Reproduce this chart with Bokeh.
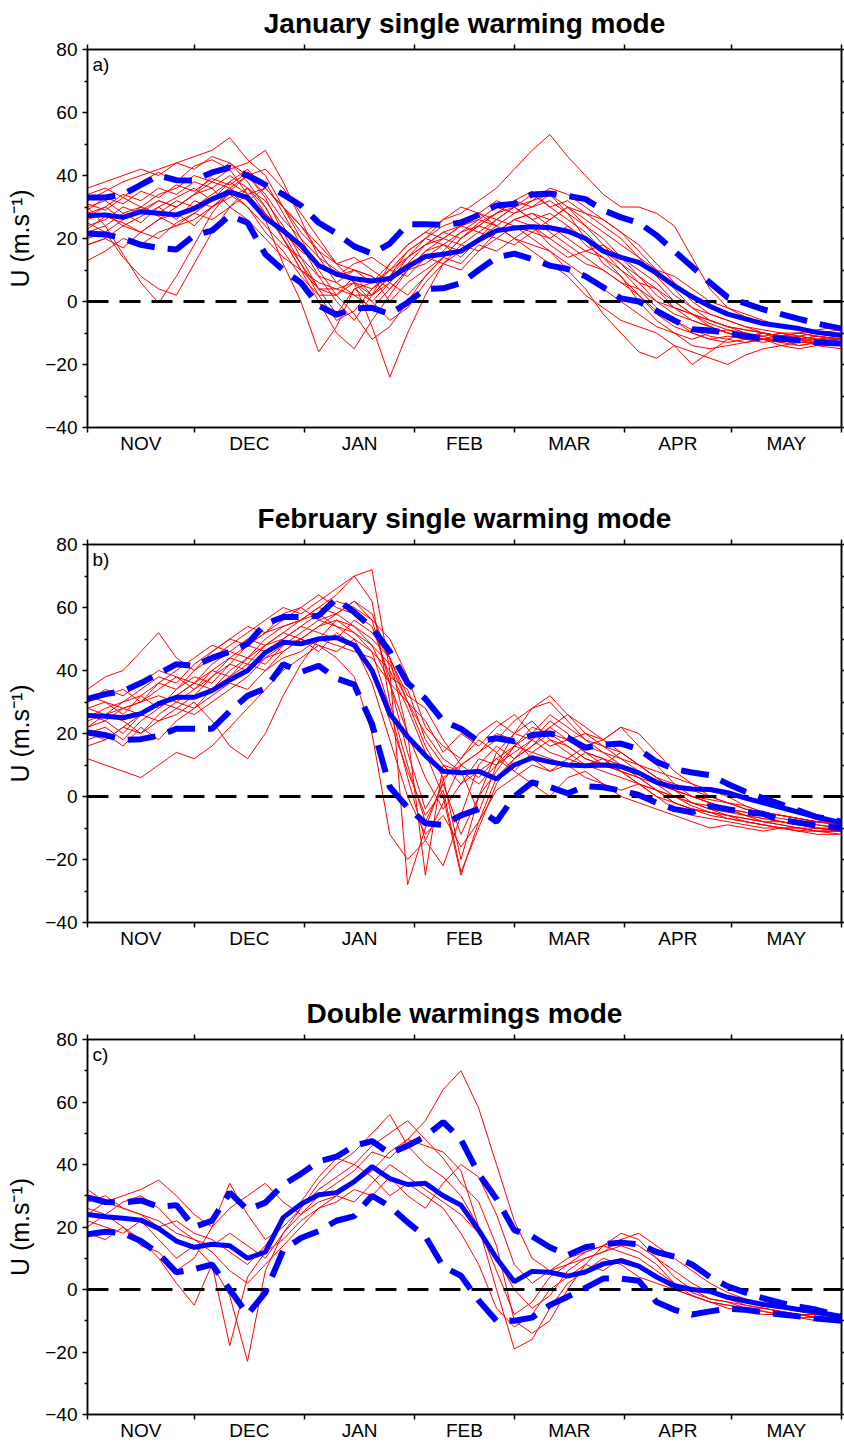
from bokeh.plotting import figure
from bokeh.layouts import column
from bokeh.models import Range1d, FixedTicker, LinearAxis, Label
from bokeh.embed import file_html
from bokeh.resources import INLINE

# ---------------- data ----------------
# day index counted from 1 November
days = [0, 5, 10, 15, 20, 25, 30, 35, 40, 45, 50, 55, 60, 65, 70, 75, 80, 85, 90, 95,
        100, 105, 110, 115, 120, 125, 130, 135, 140, 145, 150, 155, 160, 165, 170, 175,
        180, 185, 190, 195, 200, 205, 212]
month_names = ["NOV", "DEC", "JAN", "FEB", "MAR", "APR", "MAY"]
month_starts = [0, 30, 61, 92, 120, 151, 181, 212]
y_major = [-40, -20, 0, 20, 40, 60, 80]
y_minor = [-30, -10, 10, 30, 50, 70]
y_labels = ["\u221240", "\u221220", "0", "20", "40", "60", "80"]

titles = ["January single warming mode", "February single warming mode", "Double warmings mode"]
tags = ["a)", "b)", "c)"]
y_label = "U (m.s\u207b\u00b9)"

# ---- panel a : January single warming mode ----
a_mean = [27.3, 27.5, 26.7, 28.5, 28.0, 27.5, 29.5, 32.5, 34.8, 33.0, 26.5, 22.5, 17.8, 11.4, 8.7,
          7.2, 6.5, 7.3, 11.0, 14.3, 15.0, 16.0, 19.5, 22.5, 23.3, 23.7, 23.4, 22.3, 20.0, 16.0,
          14.0, 12.4, 9.0, 5.0, 1.5, -1.5, -4.0, -5.5, -7.0, -7.8, -8.6, -9.8, -10.8]
a_upper = [33, 33, 34, 37, 40, 38.5, 38.4, 41, 42.5, 40, 37, 34, 30.5, 25, 21.6, 17.5, 15.2, 18.4,
           24.5, 24.5, 24.3, 25, 27.5, 30.5, 31, 34, 34.3, 33.5, 32.5, 29, 26.7, 25, 21, 16, 11, 6,
           1.3, -0.6, -2.5, -4, -5.5, -7, -8.6]
a_lower = [21.6, 21.3, 20, 18, 17, 16.5, 21, 22.5, 27.3, 25, 15, 10, 6, -1.3, -4.2, -2.2, -2, -4,
           -0.3, 4, 4.2, 5.8, 10, 14, 15.2, 13.5, 11.4, 10.3, 8, 4.5, 1, 0, -3, -6, -8.8, -9.2, -10,
           -11, -11.7, -11.8, -12.3, -13, -13.3]
a_m01 = [30, 24, 15, 6, -0.5, 8, 18, 28, 35, 40, 33, 22, 12, 2, -6, -3, 4, 10, 14, 18, 22, 20, 25, 28, 30, 26, 22, 18, 14, 10, 6, 2, -3, -6, -9, -11, -12, -13, -12, -13, -14, -13, -14]
a_m02 = [25, 22, 14, 8, 4, 2, 12, 22, 30, 36, 30, 20, 10, 4, 4, 2, 2, 8, 16, 20, 24, 26, 28, 24, 20, 18, 16, 12, 8, 4, 0, -4, -8, -10, -12, -10, -9, -11, -10, -12, -11, -12, -11]
a_m03 = [32, 35, 38, 40, 42, 44, 46, 48, 52, 45, 40, 30, 20, 10, 2, -4, -12, -8, 0, 8, 14, 20, 24, 28, 32, 35, 30, 26, 22, 16, 10, 4, -2, -6, -10, -12, -13, -12, -13, -12, -14, -13, -13]
a_m04 = [34, 36, 33, 38, 41, 38, 43, 45, 42, 44, 48, 38, 26, 14, 6, 2, -2, 4, 10, 12, 16, 22, 26, 30, 28, 32, 34, 30, 24, 20, 14, 8, 2, -2, -4, -6, -8, -9, -10, -11, -10, -11, -12]
a_m05 = [28, 30, 26, 29, 32, 30, 34, 36, 30, 26, 20, 14, 10, 6, 4, 6, -8, -24, -10, 2, 12, 16, 20, 22, 26, 24, 18, 14, 16, 18, 14, 10, 6, 0, -4, -8, -10, -12, -11, -13, -12, -14, -13]
a_m06 = [22, 24, 28, 25, 30, 33, 36, 32, 38, 34, 28, 22, 16, 12, 8, 10, 6, 12, 18, 22, 26, 28, 32, 36, 42, 48, 53, 46, 40, 34, 30, 30, 28, 24, 14, 4, -2, -5, -7, -8, -9, -10, -11]
a_m07 = [26, 28, 24, 27, 30, 26, 32, 30, 35, 30, 22, 16, 8, 2, 2, 6, 4, 8, 14, 18, 20, 24, 22, 26, 24, 20, 16, 10, 4, -4, -10, -16, -18, -14, -20, -16, -12, -10, -12, -10, -11, -12, -12]
a_m08 = [18, 20, 24, 22, 26, 28, 24, 30, 33, 36, 32, 24, 14, 4, -4, 4, 0, 6, 12, 14, 18, 16, 20, 24, 20, 16, 12, 8, 2, -2, -6, -8, -10, -14, -16, -18, -20, -17, -15, -14, -13, -12, -12]
a_m09 = [30, 32, 28, 30, 34, 36, 40, 38, 42, 34, 26, 12, 0, -16, -8, 4, 6, 10, 8, 14, 12, 18, 16, 22, 26, 28, 26, 30, 26, 22, 18, 14, 10, 8, 4, 0, -2, -4, -6, -8, -8, -10, -9]
a_m10 = [24, 26, 30, 28, 32, 30, 34, 40, 44, 38, 30, 20, 10, 0, -10, -15, -6, 2, 10, 16, 20, 18, 22, 20, 24, 22, 20, 16, 12, 10, 6, 4, 0, -2, -4, -6, -8, -9, -10, -11, -12, -12, -13]
a_m11 = [13, 16, 20, 18, 22, 24, 28, 26, 30, 34, 36, 30, 24, 18, 12, 6, 0, -6, -2, 6, 12, 10, 16, 20, 18, 22, 26, 30, 28, 24, 20, 14, 8, 2, -2, -4, -6, -8, -9, -10, -10, -11, -12]
a_m12 = [18, 20, 17, 22, 20, 25, 28, 32, 36, 40, 42, 36, 28, 20, 12, 10, 8, 0, 6, 10, 14, 12, 18, 16, 20, 24, 20, 24, 20, 16, 12, 6, 0, -4, -6, -8, -10, -11, -12, -12, -13, -13, -14]
a_m13 = [36, 38, 40, 42, 40, 44, 42, 46, 44, 40, 34, 26, 20, 14, 10, 6, 2, 8, 12, 18, 22, 24, 28, 26, 30, 32, 36, 34, 30, 26, 22, 16, 10, 4, -2, -6, -8, -10, -12, -14, -15, -14, -15]
a_m14 = [31, 29, 33, 30, 28, 32, 30, 34, 38, 42, 36, 30, 22, 16, 12, 14, 10, 6, 2, 8, 14, 20, 24, 28, 32, 30, 34, 28, 20, 12, 8, 2, -4, -8, -10, -12, -11, -12, -10, -11, -10, -9, -8]
a_m15 = [27, 30, 34, 32, 36, 34, 38, 36, 40, 36, 28, 20, 12, 4, 2, 8, 2, 6, 14, 20, 26, 30, 28, 32, 30, 26, 28, 24, 18, 14, 10, 6, 4, 0, -4, -7, -9, -10, -11, -10, -12, -11, -12]
a_m16 = [20, 22, 26, 30, 27, 24, 26, 30, 34, 30, 24, 18, 14, 8, 6, 10, 8, 4, 10, 16, 18, 22, 24, 22, 26, 28, 24, 20, 16, 14, 8, 0, -6, -10, -14, -15, -14, -13, -12, -11, -11, -10, -10]
a_m17 = [29, 33, 31, 35, 33, 37, 35, 39, 37, 41, 38, 28, 18, 8, 0, -6, 2, 12, 18, 22, 20, 24, 26, 24, 28, 30, 32, 28, 24, 18, 12, 8, 4, -2, -6, -8, -10, -11, -12, -13, -12, -13, -12]
a_m18 = [23, 27, 25, 22, 26, 30, 34, 38, 36, 32, 36, 30, 24, 16, 8, 12, 14, 10, 16, 20, 18, 14, 20, 26, 30, 34, 30, 32, 28, 26, 22, 18, 12, 6, 0, -4, -6, -8, -10, -11, -12, -11, -12]
a_members = [a_m01, a_m02, a_m03, a_m04, a_m05, a_m06, a_m07, a_m08, a_m09,
             a_m10, a_m11, a_m12, a_m13, a_m14, a_m15, a_m16, a_m17, a_m18]

# ---- panel b : February single warming mode ----
b_mean = [25.7, 25.5, 25, 26.3, 29.5, 31.5, 31.5, 33.6, 37, 40, 45.7, 49, 48.5, 50, 50.5, 48, 40,
          26.3, 19, 13, 8, 7.5, 8, 5.6, 10, 12.3, 11, 10, 9.8, 10, 9.5, 7.5, 4.5, 3, 2.4, 2.2, 1.2,
          -0.5, -2, -3.5, -5, -6.5, -8.3]
b_upper = [31, 32.5, 33.5, 36, 39, 42, 41.5, 44, 46, 48.5, 54.8, 57, 57, 57.4, 62.8, 58.5, 53.6, 46,
           36, 31, 24, 21.5, 17.5, 18.5, 17.5, 19.5, 20, 18.7, 15.5, 16.5, 16.8, 15, 11, 8.7, 7.6,
           6.8, 4, 1.5, -0.5, -2.5, -4.5, -6.5, -8]
b_lower = [20.3, 19.5, 18, 18.2, 19.3, 21.5, 21.5, 21.5, 27, 32, 34.3, 42, 39.5, 41.5, 37.5, 35.5,
           23, 3, -3.5, -8.5, -9, -6, -4, -8, 0, 4.5, 3, 1, 3.3, 2.9, 1.9, 0.5, -2, -4, -5, -3, -4,
           -5, -5.5, -7.5, -8.3, -9.2, -10]
b_m01 = [28, 30, 26, 32, 36, 34, 40, 44, 48, 52, 56, 60, 58, 62, 66, 70, 72, 40, -28, -10, 5, 12, 18, 14, 20, 24, 18, 14, 10, 12, 8, 4, 2, 0, -2, -4, -5, -6, -7, -8, -9, -10, -10]
b_m02 = [24, 26, 28, 30, 34, 38, 36, 42, 46, 44, 50, 54, 56, 60, 64, 70, 62, 30, 10, -8, 4, -12, 0, 8, 16, 22, 20, 16, 12, 10, 14, 10, 6, 2, 0, -2, -4, -6, -7, -8, -9, -9, -10]
b_m03 = [12, 10, 8, 6, 10, 14, 12, 16, 22, 28, 34, 40, 44, 48, 46, 50, 40, 24, 8, -6, 2, -24, -10, 4, 12, 18, 24, 20, 14, 10, 8, 6, 4, 0, -3, -5, -7, -8, -9, -10, -11, -11, -12]
b_m04 = [20, 18, 22, 20, 24, 26, 30, 24, 16, 12, 20, 32, 42, 50, 56, 54, 48, 36, 20, 6, -4, 4, 12, 10, 16, 20, 26, 22, 18, 14, 12, 10, 8, 6, 4, 2, 0, -3, -5, -6, -7, -8, -9]
b_m05 = [34, 38, 40, 46, 52, 44, 40, 46, 50, 54, 52, 58, 60, 56, 58, 54, 50, 44, 30, 20, 12, 8, 4, 10, 14, 18, 22, 18, 20, 16, 12, 8, 4, 2, 0, -2, -4, -5, -6, -7, -8, -8, -9]
b_m06 = [26, 24, 28, 26, 30, 32, 36, 40, 38, 44, 48, 50, 54, 52, 50, 56, 52, 44, 20, -25, 10, 8, -5, 10, 20, 28, 30, 24, 18, 16, 14, 10, 6, 2, -2, -4, -6, -7, -8, -9, -10, -10, -11]
b_m07 = [22, 26, 24, 20, 26, 30, 28, 34, 40, 44, 42, 48, 52, 56, 54, 50, 46, 40, 28, 14, 0, -25, -8, 6, 12, 16, 22, 26, 20, 18, 22, 16, 10, 4, 0, -2, -4, -6, -8, -9, -10, -11, -11]
b_m08 = [30, 32, 34, 30, 36, 40, 44, 48, 46, 50, 48, 52, 56, 58, 54, 52, 48, 42, 30, 16, 6, 10, 14, 18, 24, 28, 32, 26, 22, 18, 22, 20, 14, 8, 4, 0, -2, -4, -5, -6, -7, -8, -8]
b_m09 = [18, 20, 16, 22, 18, 24, 28, 32, 36, 34, 40, 44, 46, 50, 48, 46, 44, 36, 14, -4, 6, -20, 0, 14, 8, 4, 0, 6, 8, 4, 0, -2, -4, -6, -8, -10, -9, -10, -11, -10, -11, -12, -12]
b_m10 = [25, 28, 30, 32, 28, 34, 38, 36, 42, 48, 52, 56, 60, 64, 60, 58, 54, 38, 34, 18, 10, 4, 8, 12, 16, 14, 18, 16, 12, 10, 8, 6, 2, -2, -4, -5, -6, -7, -8, -8, -9, -9, -10]
b_m11 = [16, 18, 22, 26, 24, 28, 26, 30, 34, 38, 44, 48, 50, 46, 52, 48, 36, 18, 0, -12, -6, -16, -8, 2, 6, 10, 8, 12, 10, 8, 6, 4, 2, 0, -2, -3, -4, -5, -6, -8, -9, -10, -11]
b_m12 = [28, 26, 30, 34, 38, 36, 42, 46, 50, 48, 46, 50, 54, 58, 62, 60, 56, 36, 30, 24, 14, 20, 16, 22, 26, 20, 16, 18, 14, 12, 10, 8, 4, 2, 0, -1, -2, -4, -5, -6, -7, -8, -9]
b_m13 = [32, 30, 28, 30, 32, 30, 34, 38, 42, 40, 44, 46, 50, 48, 44, 38, 20, -12, -20, -14, -2, 10, 6, 12, 8, 14, 12, 10, 6, 4, 2, 4, 0, -2, -4, -6, -7, -8, -9, -10, -10, -11, -11]
b_m14 = [20, 22, 18, 24, 28, 32, 36, 34, 38, 42, 40, 46, 50, 54, 58, 62, 58, 44, 32, 28, 18, 10, 14, 20, 18, 12, 8, 10, 14, 12, 8, 4, 0, -4, -6, -7, -8, -9, -10, -10, -11, -10, -11]
b_m15 = [22, 24, 20, 26, 30, 28, 32, 38, 44, 42, 48, 52, 50, 54, 56, 52, 46, 28, 6, -14, -22, -6, 10, 16, 12, 16, 20, 18, 16, 14, 10, 6, 2, -2, -4, -5, -6, -8, -9, -10, -10, -11, -11]
b_m16 = [30, 34, 32, 36, 40, 38, 34, 40, 44, 48, 52, 54, 56, 60, 58, 62, 56, 50, 38, 22, 16, 12, 20, 24, 20, 18, 14, 12, 16, 18, 14, 10, 6, 4, 2, 0, -2, -3, -5, -6, -7, -8, -9]
b_members = [b_m01, b_m02, b_m03, b_m04, b_m05, b_m06, b_m07, b_m08,
             b_m09, b_m10, b_m11, b_m12, b_m13, b_m14, b_m15, b_m16]

# ---- panel c : Double warmings mode ----
c_mean = [24, 23.3, 22.8, 22.2, 19.5, 15.5, 13.5, 14.5, 14, 10, 12, 23, 27.3, 30.3, 31, 34.5, 39.3,
          35.5, 33.6, 34, 30, 27, 19, 10, 2.5, 5.8, 5.5, 4.3, 5.6, 8.2, 9.2, 7.5, 4, 1.2, 0, -0.6,
          -2.5, -3.7, -4.8, -5.5, -6.4, -7.2, -8.6]
c_upper = [29.5, 28, 27.8, 28.5, 26.5, 27, 20, 22, 31, 25.5, 27.8, 33.5, 37, 41, 42.5, 46, 47.5,
           43.5, 46, 49, 53.6, 48, 37, 29, 19, 17, 13.5, 11, 13.5, 14.5, 15, 14.5, 12, 10.5, 8, 4,
           1, -1, -2.8, -4.3, -5.5, -6.5, -8.5]
c_lower = [17.7, 18.5, 18, 15.5, 11.5, 5.5, 6.5, 8, 0, -8, -1, 12.5, 16.5, 18.7, 22, 23.5, 30, 26.6,
           21.5, 17, 7.3, 4.4, -3.5, -10, -10, -9, -5, -2.3, 0.5, 3.5, 3.5, 2.8, -4, -6.5, -8, -7,
           -6.2, -6.5, -7.3, -8, -8.6, -9.3, -10]
c_m01 = [28, 30, 26, 24, 22, 18, 16, 14, 18, 14, 10, 18, 24, 28, 30, 34, 38, 44, 48, 54, 64, 70, 58, 40, 22, 10, 6, 8, 12, 14, 16, 18, 14, 10, 6, 2, -1, -3, -5, -6, -7, -8, -9]
c_m02 = [22, 20, 18, 22, 16, 10, 14, 8, -2, -23, 6, 18, 26, 34, 40, 44, 50, 56, 46, 40, 36, 30, 20, 6, -8, -4, 4, 8, 10, 12, 14, 12, 8, 2, -2, -4, -5, -6, -7, -8, -8, -9, -10]
c_m03 = [20, 24, 20, 16, 10, 2, -5, 8, -18, 4, 12, 16, 22, 26, 30, 28, 34, 40, 36, 32, 28, 24, 18, 10, 0, -6, -2, 6, 10, 12, 16, 14, 10, 4, 0, -3, -4, -6, -6, -7, -8, -9, -9]
c_m04 = [24, 28, 30, 32, 35, 30, 24, 20, 26, 30, 34, 28, 24, 30, 34, 38, 44, 42, 48, 46, 44, 38, 20, 0, -19, -16, -6, 2, 6, 10, 8, 4, 2, 0, -2, -4, -5, -6, -7, -8, -9, -10, -10]
c_m05 = [18, 16, 20, 14, 12, 6, 10, 20, 34, 24, 16, 20, 26, 32, 36, 40, 46, 50, 54, 48, 42, 34, 28, 14, -10, -14, -10, 0, 8, 14, 18, 16, 10, 6, 2, -1, -3, -5, -6, -7, -8, -8, -9]
c_m06 = [32, 28, 26, 24, 20, 22, 18, 16, 12, 8, 14, 22, 28, 36, 42, 40, 36, 30, 34, 30, 26, 18, 8, -6, -12, -8, 0, 4, 8, 6, 10, 8, 4, 0, -2, -4, -6, -7, -8, -8, -9, -9, -10]
c_m07 = [26, 24, 28, 30, 26, 20, 16, 12, 6, 2, 8, 14, 20, 26, 28, 32, 30, 36, 30, 26, 34, 40, 36, 24, 8, 2, 6, 10, 12, 14, 12, 10, 6, 2, -1, -3, -4, -5, -6, -7, -8, -9, -9]
c_members = [c_m01, c_m02, c_m03, c_m04, c_m05, c_m06, c_m07]

# ---------------- drawing ----------------
FONT = "Liberation Sans"
month_mids = [(month_starts[i] + month_starts[i + 1]) / 2 for i in range(len(month_names))]


def style_axis(ax):
    ax.axis_line_color = "black"
    ax.axis_line_width = 1.5
    ax.major_tick_line_color = "black"
    ax.major_tick_line_width = 1.5
    ax.minor_tick_line_color = "black"
    ax.minor_tick_line_width = 1.5
    ax.major_tick_in = 0
    ax.minor_tick_in = 0
    ax.major_label_text_font = FONT
    ax.major_label_text_font_size = "19px"
    ax.major_label_text_color = "black"


def hide_labels(ax):
    ax.major_label_text_font_size = "0px"
    ax.major_label_text_color = None
    ax.major_label_standoff = 0


def make_panel(title, tag, members, mean, upper, lower, height, top_b, bottom_b):
    p = figure(width=844, height=height,
               x_range=Range1d(month_starts[0], month_starts[-1]),
               y_range=Range1d(y_major[0], y_major[-1]),
               output_backend="svg", toolbar_location=None, title=title,
               x_axis_location=None, y_axis_location=None,
               min_border_left=87, min_border_right=3,
               min_border_top=top_b, min_border_bottom=bottom_b)
    p.xgrid.visible = False
    p.ygrid.visible = False
    p.outline_line_color = "black"
    p.outline_line_width = 1.5
    p.outline_line_alpha = 1.0
    p.background_fill_color = "white"
    p.border_fill_color = "white"

    p.title.align = "center"
    p.title.text_font = FONT
    p.title.text_font_size = "28px"
    p.title.text_font_style = "bold"
    p.title.text_color = "black"
    p.title.standoff = 11

    left = LinearAxis(ticker=FixedTicker(ticks=y_major, minor_ticks=y_minor),
                      axis_label=y_label)
    style_axis(left)
    left.major_tick_out = 5
    left.minor_tick_out = 3
    left.major_label_standoff = 5
    left.major_label_overrides = dict(zip(y_major, y_labels))
    left.axis_label_text_font = FONT
    left.axis_label_text_font_size = "25px"
    left.axis_label_text_font_style = "normal"
    left.axis_label_text_color = "black"
    left.axis_label_standoff = 8
    p.add_layout(left, "left")

    right = LinearAxis(ticker=FixedTicker(ticks=y_major, minor_ticks=y_minor))
    style_axis(right)
    right.major_tick_out = 3
    right.minor_tick_out = 3
    hide_labels(right)
    p.add_layout(right, "right")

    bottom_ax = LinearAxis(ticker=FixedTicker(ticks=month_mids, minor_ticks=month_starts))
    style_axis(bottom_ax)
    bottom_ax.major_tick_out = 0
    bottom_ax.minor_tick_out = 5
    bottom_ax.major_label_standoff = 0
    bottom_ax.major_label_overrides = dict(zip(month_mids, month_names))
    p.add_layout(bottom_ax, "below")

    top = LinearAxis(ticker=FixedTicker(ticks=month_starts))
    style_axis(top)
    top.major_tick_out = 5
    top.minor_tick_out = 0
    hide_labels(top)
    p.add_layout(top, "above")

    p.multi_line(xs=[days] * len(members), ys=members, line_color="#ff0000",
                 line_width=1, line_join="round")
    p.hspan(y=[0], line_color="black", line_width=3, line_dash="21 11")
    p.line(days, upper, line_color="#0000ff", line_width=6, line_dash="28 13")
    p.line(days, lower, line_color="#0000ff", line_width=6, line_dash="28 13")
    p.line(days, mean, line_color="#0000ff", line_width=5)

    p.add_layout(Label(x=month_starts[0], y=y_major[-1], x_offset=5, y_offset=-4,
                       text=tag, text_baseline="top", text_align="left",
                       text_font=FONT, text_font_size="19px", text_color="black"))
    return p


pa = make_panel(titles[0], tags[0], a_members, a_mean, a_upper, a_lower, 495, 49, 68)
pb = make_panel(titles[1], tags[1], b_members, b_mean, b_upper, b_lower, 495, 49, 68)
pc = make_panel(titles[2], tags[2], c_members, c_mean, c_upper, c_lower, 453, 49, 29)

layout = column(pa, pb, pc)
open("out.html", "w").write(file_html(layout, INLINE))
